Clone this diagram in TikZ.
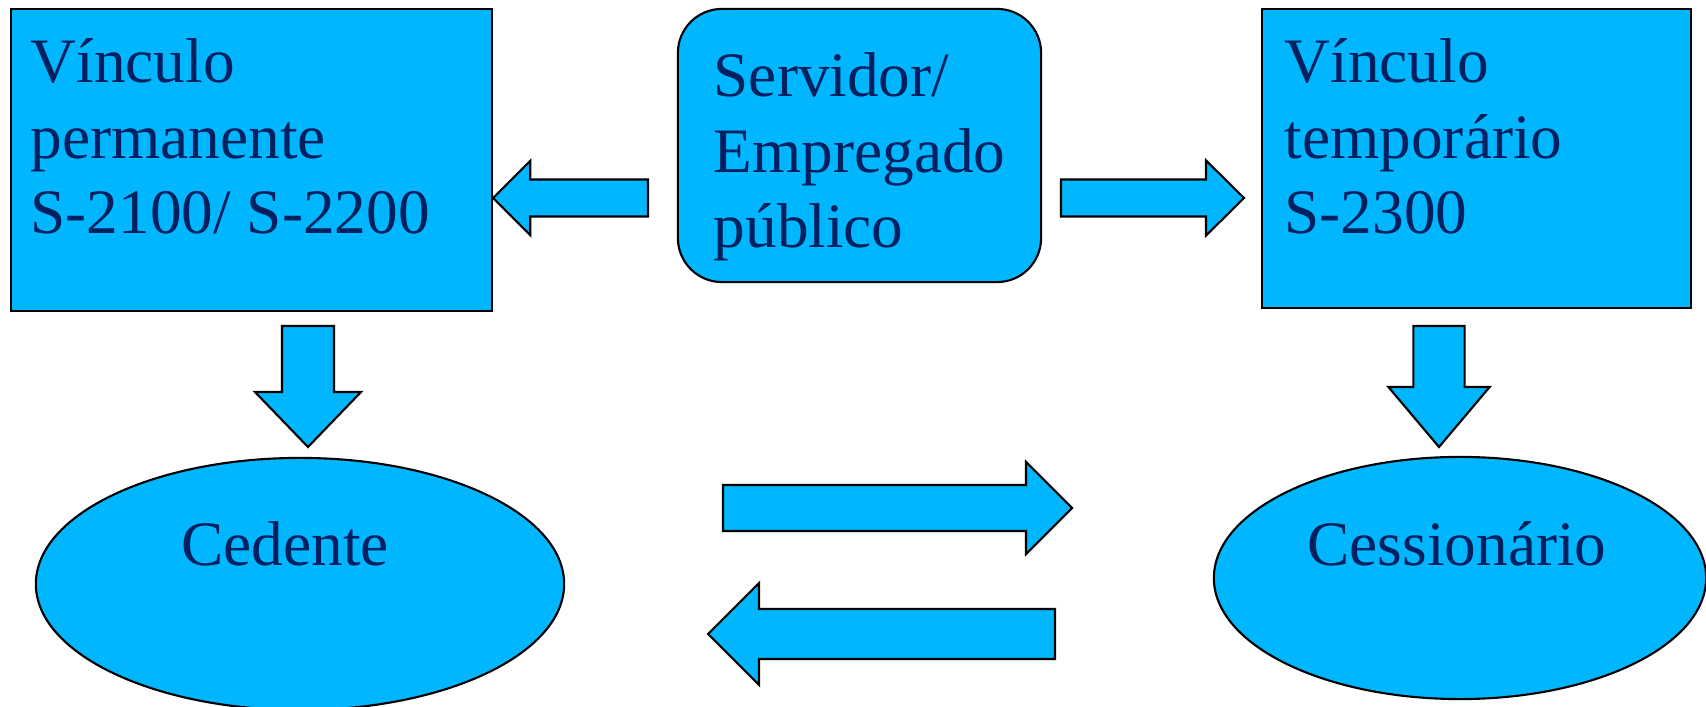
\documentclass[tikz,border=0pt]{standalone}
\usepackage{fontspec}
\setmainfont{Liberation Serif}
\usetikzlibrary{calc,shapes.geometric}

\definecolor{boxblue}{RGB}{0,183,255}
\definecolor{textnavy}{RGB}{0,32,96}

\tikzset{
  blk/.style={draw=black, fill=boxblue, line width=0.6pt, line join=miter},
  box/.style={blk, rectangle, inner sep=0pt},
  roundbox/.style={box, rounded corners=0.44cm},
  oval/.style={blk, ellipse, inner sep=0pt},
  txt/.style={text=textnavy, font=\fontsize{18}{21.6}\selectfont, inner sep=0pt, align=left},
}

% block arrow: tail, tip, shaft half width, head half width, head length
\newcommand{\fatarrow}[5]{%
  \coordinate (hb) at ($(#2)!#5!(#1)$);
  \draw[blk] ($(#1)!#3!90:(#2)$) -- ($(hb)!#3!90:(#2)$) -- ($(hb)!#4!90:(#2)$) -- (#2)
    -- ($(hb)!#4!-90:(#2)$) -- ($(hb)!#3!-90:(#2)$) -- ($(#1)!#3!-90:(#2)$) -- cycle;
}

\begin{document}
\begin{tikzpicture}[x=0.01cm, y=-0.01cm]
    \useasboundingbox (0,0) rectangle (1706,707);

    % Top row: the two links and the employee
    \node[box, minimum width=4.81cm, minimum height=3.02cm] (perm) at (251.5,160) {};
    \node[roundbox, minimum width=3.63cm, minimum height=2.73cm] (serv) at (859.5,145.5) {};
    \node[box, minimum width=4.29cm, minimum height=2.99cm] (temp) at (1476.5,158.5) {};

    % texts sit on the baseline of their last line
    \node[txt, anchor=base west] (permtxt) at (30,234) {Vínculo\\permanente\\S-2100/ S-2200};
    \node[txt, anchor=base west] (servtxt) at (713,248) {Servidor/\\Empregado\\público};
    \node[txt, anchor=base west] (temptxt) at (1284,234) {Vínculo\\temporário\\S-2300};

    % Bottom row: the two bodies
    \node[oval, minimum width=5.28cm, minimum height=2.52cm] (ced) at (300,584) {};
    \node[oval, minimum width=4.92cm, minimum height=2.42cm] (ces) at (1460,578) {};
    \node[txt, anchor=base] (cedtxt) at (285,566) {Cedente};
    \node[txt, anchor=base] (cestxt) at (1457,566) {Cessionário};

    % Arrow ends
    \coordinate (a1s) at (648,198);
    \coordinate (a1e) at (perm.east |- a1s);
    \coordinate (a2s) at (1061,198);
    \coordinate (a2e) at (1244,198);
    \coordinate (a3s) at (308,326);
    \coordinate (a3e) at (308,447);
    \coordinate (a4s) at (1439,326);
    \coordinate (a4e) at (1439,447);
    \coordinate (a5s) at (723,508);
    \coordinate (a5e) at (1072,508);
    \coordinate (a6s) at (1055,634);
    \coordinate (a6e) at (708,634);

    \fatarrow{a1s}{a1e}{0.185cm}{0.37cm}{0.37cm}
    \fatarrow{a2s}{a2e}{0.185cm}{0.376cm}{0.38cm}
    \fatarrow{a3s}{a3e}{0.26cm}{0.53cm}{0.55cm}
    \fatarrow{a4s}{a4e}{0.256cm}{0.506cm}{0.6cm}
    \fatarrow{a5s}{a5e}{0.23cm}{0.46cm}{0.46cm}
    \fatarrow{a6s}{a6e}{0.25cm}{0.51cm}{0.51cm}
\end{tikzpicture}
\end{document}
